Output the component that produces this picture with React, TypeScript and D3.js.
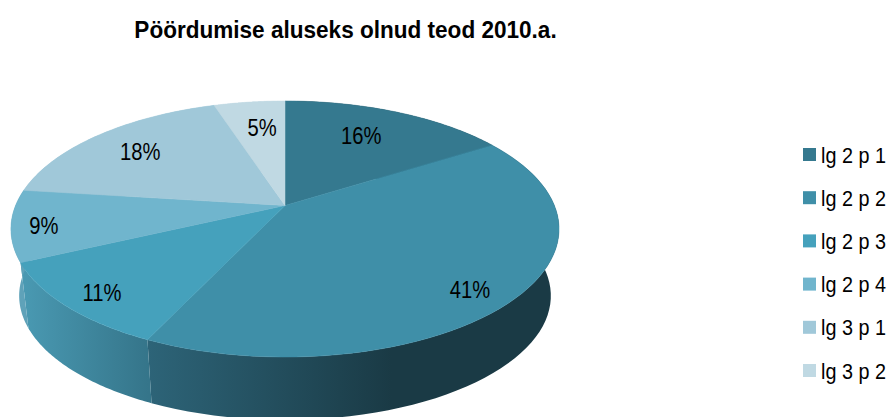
import React, { useEffect, useRef } from 'react';
import * as d3 from 'd3';

const title = 'Pöördumise aluseks olnud teod 2010.a.';
const categories = ['lg 2 p 1', 'lg 2 p 2', 'lg 2 p 3', 'lg 2 p 4', 'lg 3 p 1', 'lg 3 p 2'];
const shares = [16, 41, 11, 9, 18, 5];
const colors = ['#35798f', '#3f8fa8', '#45a1bc', '#70b5cd', '#a0c8d9', '#c0d9e3'];
// rim gradient stops, left to right, per slice
const rimColors = [
  ['#1a3a45', '#1a3a45'],
  ['#2d6478', '#1a3a45'],
  ['#4a9ab3', '#35758a'],
  ['#5fa2b9', '#5fa2b9'],
  ['#a0c8d9', '#a0c8d9'],
  ['#c0d9e3', '#c0d9e3'],
];
// how far out along the slice each percent label sits, plus a small hand nudge
const labelRadius = [0.64, 0.82, 0.85, 0.88, 0.72, 0.72];
const labelNudge = [[1, -7], [1, 10], [-1, 4], [-1, 3], [-7, -1], [4, 0]];

const width = 893;
const height = 417;

// The pie is a circle seen in perspective, so its centre is not the ellipse centre
const tilt = -47 / 256;
const project = (angle: number, r: number, cx: number, cy: number, k: number): [number, number] => {
  const u = r * Math.sin(angle);
  const v = -r * Math.cos(angle);
  const w = 1 + tilt * v;
  return [cx + (k * 269.4 * u) / w, cy + (k * 123.7 * v) / w];
};
const top = (a: number, r = 1) => project(a, r, 285, 205.5, 1);
const bottom = (a: number) => project(a, 1, 285, 273, 0.97);

const App: React.FC = () => {
  const svgRef = useRef<SVGSVGElement>(null);

  useEffect(() => {
    if (!svgRef.current) return;
    const svg = d3.select(svgRef.current);
    svg.selectAll('*').remove();

    const slices = d3.pie<number>().sort(null)(shares);
    const line = d3.line();
    const steps = (s: d3.PieArcDatum<number>) =>
      d3.range(0, 61).map(i => s.startAngle + ((s.endAngle - s.startAngle) * i) / 60);

    const defs = svg.append('defs');
    const rimRanges = [[400, 560], [148, 392], [20, 148], [12, 24], [0, 1], [0, 1]];
    rimColors.forEach((stops, i) => {
      const g = defs.append('linearGradient')
        .attr('id', `rim${i}`)
        .attr('gradientUnits', 'userSpaceOnUse')
        .attr('x1', rimRanges[i][0]).attr('x2', rimRanges[i][1])
        .attr('y1', 0).attr('y2', 0);
      g.append('stop').attr('offset', 0).attr('stop-color', stops[0]);
      g.append('stop').attr('offset', 1).attr('stop-color', stops[1]);
    });

    // rims first, the top face then covers the back half
    svg.append('g')
      .selectAll('path')
      .data(slices)
      .join('path')
      .attr('d', s => {
        const a = steps(s);
        return line([...a.map(x => top(x)), ...a.slice().reverse().map(bottom)]) + 'Z';
      })
      .attr('fill', (_, i) => `url(#rim${i})`);

    svg.append('g')
      .selectAll('path')
      .data(slices)
      .join('path')
      .attr('d', s => line([top(0, 0), ...steps(s).map(x => top(x))]) + 'Z')
      .attr('fill', (_, i) => colors[i])
      .attr('stroke', (_, i) => colors[i])
      .attr('stroke-width', 0.5);

    // the reference text is squeezed horizontally
    const squeezed = (x: number, y: number, sx: number) => `translate(${x},${y}) scale(${sx},1)`;

    svg.append('g')
      .selectAll('text')
      .data(slices)
      .join('text')
      .attr('transform', (s, i) => {
        const [x, y] = top((s.startAngle + s.endAngle) / 2, labelRadius[i]);
        return squeezed(x + labelNudge[i][0], y + 8 + labelNudge[i][1], 0.86);
      })
      .attr('text-anchor', 'middle')
      .attr('font-size', 23.5)
      .attr('fill', '#000')
      .text(s => `${s.data}%`);

    svg.append('text')
      .attr('transform', squeezed(345.5, 38, 0.94))
      .attr('text-anchor', 'middle')
      .attr('font-size', 24)
      .attr('font-weight', 'bold')
      .attr('fill', '#000')
      .text(title);

    const legendY = d3.scalePoint<string>().domain(categories).range([154.5, 370.5]);
    const legend = svg.append('g')
      .selectAll('g')
      .data(categories)
      .join('g')
      .attr('transform', d => `translate(803,${legendY(d)})`);
    legend.append('rect')
      .attr('y', -6.5)
      .attr('width', 13)
      .attr('height', 13)
      .attr('fill', (_, i) => colors[i]);
    legend.append('text')
      .attr('transform', squeezed(18, 8, 0.9))
      .attr('font-size', 22)
      .attr('fill', '#000')
      .text(d => d);
  }, []);

  return (
    <svg
      ref={svgRef}
      width={width}
      height={height}
      fontFamily="'Liberation Sans', Arial, sans-serif"
      style={{ position: 'absolute', left: 0, top: 0, background: '#fff' }}
    />
  );
};

export default App;
